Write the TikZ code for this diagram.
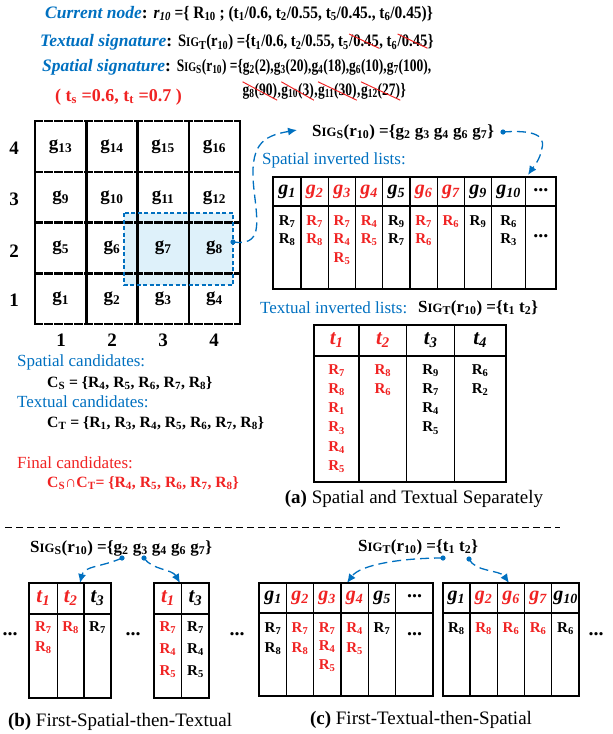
\documentclass[tikz,border=0pt]{standalone}
\usepackage{fontspec}
\usepackage{graphicx}
\setmainfont{Liberation Serif}
\usetikzlibrary{arrows.meta}
\definecolor{cblue}{RGB}{0,112,192}
\definecolor{cred}{RGB}{240,35,35}
\definecolor{hl}{RGB}{222,241,250}
\newcommand\sub[1]{\textsubscript{#1}}
\newcommand\SIG[1]{S\scalebox{0.75}{IG}\textsubscript{#1}}
\newcommand\xo[1]{\tikz[baseline=(xs.base)]{\node[inner sep=0pt](xs){#1};\draw[cred,line width=1pt] ([yshift=1pt]xs.north west)--([yshift=-1pt]xs.south east);}}
\newcommand\bi[1]{{\color{cblue}\fontsize{17.5}{20}\selectfont\itshape #1}}
\newcommand\mktable[6]{%
  \foreach \xx in {#3} {\draw[tbi] (\xx,#4) -- (\xx,#6);}
  \draw[line width=1.6pt] (#1,#5) -- (#2,#5);
  \draw[tbo] (#1,#4) rectangle (#2,#6);}
\begin{document}
\begin{tikzpicture}[x=1pt,y=-1pt,
  txt/.style={inner sep=0pt,anchor=west,font=\fontsize{16}{19}\selectfont\bfseries},
  big/.style={txt,font=\fontsize{17.5}{20}\selectfont\bfseries},
  sigtxt/.style={txt,font=\fontsize{17}{19}\selectfont\bfseries},
  cell/.style={inner sep=0pt,font=\fontsize{19}{21}\selectfont\bfseries},
  hd/.style={inner sep=0pt,font=\fontsize{20}{22}\selectfont\bfseries\itshape},
  ent/.style={inner sep=0pt,anchor=north,align=center,font=\fontsize{15}{18.5}\selectfont\bfseries},
  entb/.style={ent,font=\fontsize{15}{20.5}\selectfont\bfseries},
  captxt/.style={inner sep=0pt,font=\fontsize{19}{22}\selectfont},
  bl/.style={inner sep=0pt,anchor=west,text=cblue,font=\fontsize{17}{19}\selectfont},
  cnd/.style={inner sep=0pt,anchor=west,font=\fontsize{15.7}{18}\selectfont\bfseries},
  dots/.style={inner sep=0pt,font=\fontsize{20}{22}\selectfont\bfseries},
  conn/.style={cblue,line width=1.3pt,dash pattern=on 9pt off 5pt,-{Latex[length=9pt,width=8pt]}},
  tbo/.style={line width=2pt},
  tbi/.style={line width=1.1pt},
]
\useasboundingbox (0,0) rectangle (613,734);

% ---------- top text ----------
\node[big] (l1) at (45,14) {\bi{Current node}: \scalebox{0.88}[1]{\textit{r\sub{10}} =\{ R\sub{10} ; (t\sub{1}/0.6, t\sub{2}/0.55, t\sub{5}/0.45., t\sub{6}/0.45)\}}};
\node[big] (l2) at (40,42) {\bi{Textual signature}: \scalebox{0.835}[1]{\SIG{T}(r\sub{10}) =\{t\sub1/0.6, t\sub2/0.55, t\sub5\xo{/0.45}, t\sub6\xo{/0.45}\}}};
\node[big] (l3) at (42,67) {\bi{Spatial signature}: \scalebox{0.77}[1]{\SIG{S}(r\sub{10}) =\{g\sub2(2),g\sub3(20),g\sub4(18),g\sub6(10),g\sub7(100),}};
\node[big] (l4) at (242,91) {\scalebox{0.77}[1]{\xo{g\sub8(90)},\xo{g\sub{10}(3)},\xo{g\sub{11}(30)},\xo{g\sub{12}(27)}\}}};
\node[txt,text=cred,font=\fontsize{18}{20}\selectfont\bfseries] (th) at (55,97) {( t\sub{s} =0.6, t\sub{t} =0.7 )};

% ---------- grid ----------
\fill[hl] (124,213) rectangle (233,285);
\foreach \xx in {35,86.25,137.5,188.75,240} \draw[line width=2.5pt] (\xx,121) -- (\xx,324);
\foreach \yy in {121,171.75,222.5,273.25,324} \draw[line width=2.5pt,dash pattern=on 9pt off 1pt] (34,\yy) -- (241,\yy);
\draw[cblue,line width=1.6pt,dash pattern=on 4pt off 2.5pt] (124,213) rectangle (233,285);
\foreach \n/\cx/\cy in {13/60.6/147,14/111.9/147,15/163.1/147,16/214.4/147,
                        9/60.6/198,10/111.9/198,11/163.1/198,12/214.4/198,
                        5/60.6/248,6/111.9/248,7/163.1/248,8/214.4/248,
                        1/60.6/299,2/111.9/299,3/163.1/299,4/214.4/299}
  \node[cell] (g\n) at (\cx,\cy) {g\sub{\n}};
\foreach \r/\cy in {4/148,3/199,2/251,1/300} \node[cell] (row\r) at (14,\cy) {\r};
\foreach \c/\cx in {1/61,2/112,3/163,4/214} \node[cell] (col\c) at (\cx,340) {\c};

% ---------- spatial signature + inverted lists ----------
\node[sigtxt] (sigS) at (312,132) {\SIG{S}(r\sub{10}) =\{g\sub2 g\sub3 g\sub4 g\sub6 g\sub7\}};
\node[bl] (sil) at (262,160) {Spatial inverted lists:};
\coordinate (dA) at (233,242);
\coordinate (aA) at (297,130);
\coordinate (dB) at (503,132);
\coordinate (aB) at (528,175);
\fill[cblue] (dA) circle (2.6);
\fill[cblue] (dB) circle (2.6);
\draw[conn] (dA) .. controls (262,246) and (258,225) .. (254,190) .. controls (249,145) and (262,136) .. (aA);
\draw[conn] (dB) .. controls (530,130) and (546,134) .. (542,148) .. controls (540,160) and (534,166) .. (aB);

\mktable{273.3}{556}{301,328.3,355.7,382.7,410,437.3,464.3,491.7,525.7}{177}{206}{289}
\foreach \cx/\lab/\col [count=\i] in {287.2/1/black,314.7/2/cred,342/3/cred,369.2/4/cred,396.4/5/black,423.7/6/cred,450.8/7/cred,478/9/black,508.7/10/black}
  \node[hd,text=\col] (hA\i) at (\cx,192) {g\sub{\lab}};
\node[dots] (hAd) at (540.9,190) {...};
\node[ent] (eA1) at (287.2,215) {R\sub7\\R\sub8};
\node[ent,text=cred] (eA2) at (314.7,215) {R\sub7\\R\sub8};
\node[ent,text=cred] (eA3) at (342,215) {R\sub7\\R\sub4\\R\sub5};
\node[ent,text=cred] (eA4) at (369.2,215) {R\sub4\\R\sub5};
\node[ent] (eA5) at (396.4,215) {R\sub9\\R\sub7};
\node[ent,text=cred] (eA6) at (423.7,215) {R\sub7\\R\sub6};
\node[ent,text=cred] (eA7) at (450.8,215) {R\sub6};
\node[ent] (eA8) at (478,215) {R\sub9};
\node[ent] (eA9) at (508.7,215) {R\sub6\\R\sub3};
\node[dots] (eAd) at (540.9,236) {...};

% ---------- textual inverted lists ----------
\node[bl] (til) at (260,308) {Textual inverted lists:};
\node[sigtxt] (sigT) at (418,308) {\SIG{T}(r\sub{10}) =\{t\sub1 t\sub2\}};
\mktable{314.3}{505.7}{359,406.7,454.7}{325}{356}{482}
\foreach \cx/\lab/\col [count=\i] in {336.7/1/cred,382.9/2/cred,430.7/3/black,480.2/4/black}
  \node[hd,text=\col,font=\fontsize{21}{23}\selectfont\bfseries\itshape] (hT\i) at (\cx,340) {t\sub{\lab}};
\node[ent,text=cred,font=\fontsize{15}{19.3}\selectfont\bfseries] (eT1) at (336.7,364) {R\sub7\\R\sub8\\R\sub1\\R\sub3\\R\sub4\\R\sub5};
\node[ent,text=cred,font=\fontsize{15}{19.3}\selectfont\bfseries] (eT2) at (382.9,364) {R\sub8\\R\sub6};
\node[ent,font=\fontsize{15}{19.3}\selectfont\bfseries] (eT3) at (430.7,364) {R\sub9\\R\sub7\\R\sub4\\R\sub5};
\node[ent,font=\fontsize{15}{19.3}\selectfont\bfseries] (eT4) at (480.2,364) {R\sub6\\R\sub2};
\node[captxt] (capa) at (414,499) {\textbf{(a)} Spatial and Textual Separately};

% ---------- candidates ----------
\node[bl] (sc) at (17,362) {Spatial candidates:};
\node[cnd] (cs) at (47,383) {C\sub{S} = \{R\sub4, R\sub5, R\sub6, R\sub7, R\sub8\}};
\node[bl] (tc) at (17,402) {Textual candidates:};
\node[cnd] (ct) at (47,423) {C\sub{T} = \{R\sub1, R\sub3, R\sub4, R\sub5, R\sub6, R\sub7, R\sub8\}};
\node[bl,text=cred] (fc) at (17,463) {Final candidates:};
\node[cnd,text=cred] (cf) at (47,483) {C\sub{S}∩C\sub{T}= \{R\sub4, R\sub5, R\sub6, R\sub7, R\sub8\}};

% ---------- divider ----------
\draw[line width=1pt,dash pattern=on 7pt off 4pt] (5,527) -- (560,527);

% ---------- (b) ----------
\node[sigtxt] (sigSb) at (30,548) {\SIG{S}(r\sub{10}) =\{g\sub2 g\sub3 g\sub4 g\sub6 g\sub7\}};
\coordinate (db1) at (122,558);
\coordinate (db2) at (144,558);
\coordinate (ab1) at (80,583);
\coordinate (ab2) at (180,583);
\fill[cblue] (db1) circle (2.6);
\fill[cblue] (db2) circle (2.6);
\draw[conn] (db1) .. controls (102,567) and (84,566) .. (ab1);
\draw[conn] (db2) .. controls (152,570) and (172,569) .. (ab2);
\mktable{29.3}{111}{57.3,84}{583}{614}{698}
\node[hd,text=cred,font=\fontsize{21}{23}\selectfont\bfseries\itshape] (hb1) at (43.3,598) {t\sub1};
\node[hd,text=cred,font=\fontsize{21}{23}\selectfont\bfseries\itshape] (hb2) at (70.7,598) {t\sub2};
\node[hd,font=\fontsize{21}{23}\selectfont\bfseries\itshape] (hb3) at (97.5,598) {t\sub3};
\node[entb,text=cred] (eb1) at (43.3,621) {R\sub7\\R\sub8};
\node[entb,text=cred] (eb2) at (70.7,621) {R\sub8};
\node[entb] (eb3) at (97.5,621) {R\sub7};
\mktable{154}{209.3}{181.7}{583}{614}{698}
\node[hd,text=cred,font=\fontsize{21}{23}\selectfont\bfseries\itshape] (hb4) at (167.9,598) {t\sub1};
\node[hd,font=\fontsize{21}{23}\selectfont\bfseries\itshape] (hb5) at (195.5,598) {t\sub3};
\node[ent,text=cred,font=\fontsize{15}{22}\selectfont\bfseries] (eb4) at (167.9,621) {R\sub7\\R\sub4\\R\sub5};
\node[ent,font=\fontsize{15}{22}\selectfont\bfseries] (eb5) at (195.5,621) {R\sub7\\R\sub4\\R\sub5};
\node[dots] (bd1) at (10,634) {...};
\node[dots] (bd2) at (133,634) {...};
\node[dots] (bd3) at (237,634) {...};
\node[captxt] (capb) at (120,722) {\textbf{(b)} First-Spatial-then-Textual};

% ---------- (c) ----------
\node[sigtxt] (sigTc) at (358,547) {\SIG{T}(r\sub{10}) =\{t\sub1 t\sub2\}};
\coordinate (dc1) at (443,558);
\coordinate (dc2) at (469,559);
\coordinate (ac1) at (347,583);
\coordinate (ac2) at (509,583);
\fill[cblue] (dc1) circle (2.6);
\fill[cblue] (dc2) circle (2.6);
\draw[conn] (dc1) .. controls (400,558) and (360,565) .. (ac1);
\draw[conn] (dc2) .. controls (475,572) and (500,570) .. (ac2);
\mktable{259.3}{433.3}{286.7,313.3,341,368.3,395.7}{583}{613}{696}
\foreach \cx/\lab/\col [count=\i] in {273/1/black,300/2/cred,327.2/3/cred,354.7/4/cred,382/5/black}
  \node[hd,text=\col] (hc\i) at (\cx,598) {g\sub{\lab}};
\node[dots] (hcd) at (414.5,596) {...};
\node[entb] (ec1) at (273,622) {R\sub7\\R\sub8};
\node[entb,text=cred] (ec2) at (300,622) {R\sub7\\R\sub8};
\node[ent,text=cred] (ec3) at (327.2,622) {R\sub7\\R\sub4\\R\sub5};
\node[entb,text=cred] (ec4) at (354.7,622) {R\sub4\\R\sub5};
\node[entb] (ec5) at (382,622) {R\sub7};
\node[dots] (ecd) at (414.5,634) {...};
\mktable{442.7}{579.3}{470,497.3,524.7,551.7}{583}{613}{696}
\foreach \cx/\lab/\col [count=\i] in {456.4/1/black,483.7/2/cred,511/6/cred,538.2/7/cred,565.5/10/black}
  \node[hd,text=\col] (hd\i) at (\cx,598) {g\sub{\lab}};
\node[entb] (ed1) at (456.4,622) {R\sub8};
\node[entb,text=cred] (ed2) at (483.7,622) {R\sub8};
\node[entb,text=cred] (ed3) at (511,622) {R\sub6};
\node[entb,text=cred] (ed4) at (538.2,622) {R\sub6};
\node[entb] (ed5) at (565.5,622) {R\sub6};
\node[dots] (cd1) at (596,634) {...};
\node[captxt] (capc) at (421,720) {\textbf{(c)} First-Textual-then-Spatial};
\end{tikzpicture}
\end{document}
